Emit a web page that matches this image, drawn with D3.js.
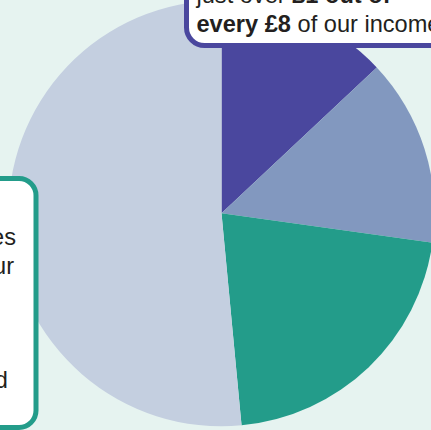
<!DOCTYPE html>
<html>
<head>
<meta charset="utf-8">
<script src="https://cdn.jsdelivr.net/npm/d3@7"></script>
<style>
html,body{margin:0;padding:0;background:#e6f3f0;overflow:hidden;}
svg{display:block;}
</style>
</head>
<body>
<svg id="chart" width="431" height="430"></svg>
<script>
// Data
const categories = ["Other income", "Investments", "Fees and contracts", "Donations and legacies"];
const values = [13.0, 14.2, 21.3, 51.5];
const colors = ["#4a479e", "#8298bf", "#239c8a", "#c4cfe0"];
const topNoteLines = [
  [{t:"just over ", b:false}, {t:"£1 out of", b:true}],
  [{t:"every £8", b:true}, {t:" of our income", b:false}]
];
const leftNoteLines = ["Our charitable activities", "make up over half of our", "income, including", "contracts and grants", "from government", "and"];
const leftNoteEnds = [16, 14, -6, -6, -6, 8];

const W = 431, H = 430;
const svg = d3.select("#chart");
svg.append("rect").attr("width", W).attr("height", H).attr("fill", "#e6f3f0");

const cx = 221.5, cy = 213.3, R = 213;
const pie = d3.pie().sort(null).value(d => d).startAngle(0).endAngle(2*Math.PI);
const arc = d3.arc().innerRadius(0).outerRadius(R);
const color = d3.scaleOrdinal().domain(categories).range(colors);

const g = svg.append("g").attr("transform", `translate(${cx},${cy})`);
g.selectAll("path").data(pie(values)).join("path")
  .attr("d", arc)
  .attr("fill", (d,i) => color(categories[i]));

const font = "'Liberation Sans', Arial, Helvetica, sans-serif";

// Top callout
svg.append("rect")
  .attr("x", 186.5).attr("y", -80).attr("width", 320).attr("height", 125.5)
  .attr("rx", 18).attr("fill", "#ffffff")
  .attr("stroke", "#4a479e").attr("stroke-width", 5);
const topText = svg.append("g").attr("font-family", font).attr("font-size", 23.6).attr("fill", "#231f20");
topNoteLines.forEach((line, i) => {
  const t = topText.append("text").attr("x", 196.5).attr("y", 3 + i*29.3);
  line.forEach(s => t.append("tspan").attr("font-weight", s.b ? "bold" : "normal").text(s.t));
});

// Left callout
svg.append("rect")
  .attr("x", -300).attr("y", 178.5).attr("width", 336).attr("height", 249)
  .attr("rx", 17).attr("fill", "#ffffff")
  .attr("stroke", "#239c8a").attr("stroke-width", 5);
const leftText = svg.append("g").attr("font-family", font).attr("font-size", 23.6).attr("fill", "#231f20");
leftNoteLines.forEach((s, i) => {
  leftText.append("text").attr("x", leftNoteEnds[i]).attr("y", 245 + i*28.6)
    .attr("text-anchor", "end").text(s);
});
</script>
</body>
</html>
